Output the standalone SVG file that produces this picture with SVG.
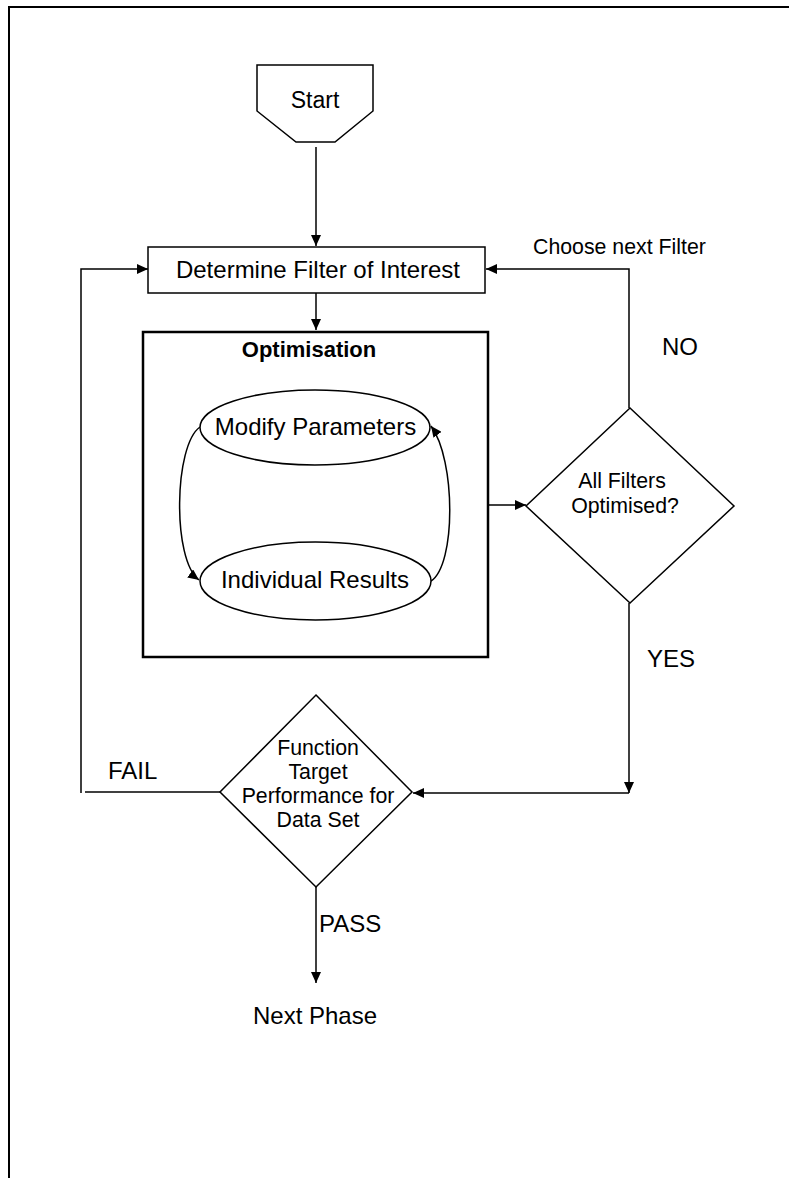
<svg xmlns="http://www.w3.org/2000/svg" width="789" height="1178" viewBox="0 0 789 1178">
<style>
.t{font-family:"Liberation Sans",Arial,sans-serif;fill:#000;}
.l{font-size:24px;}
.s{font-size:21.3px;}
.b{font-size:22px;font-weight:bold;}
.sh{fill:#fff;stroke:#000;stroke-width:1.5;}
.c{fill:none;stroke:#000;stroke-width:1.5;}
</style>
<defs>
<marker id="ah" markerUnits="userSpaceOnUse" markerWidth="12" markerHeight="10" refX="11" refY="5" orient="auto">
<path d="M0,0 L11,5 L0,10 Z" fill="#000"/>
</marker>
</defs>
<rect width="789" height="1178" fill="#fff"/>
<g id="frame">
<path d="M9,1178 L9,7 L789,7" fill="none" stroke="#000" stroke-width="2"/>
</g>
<g id="connectors">
<path class="c" d="M316,147 L316,246" marker-end="url(#ah)"/>
<path class="c" d="M316,293 L316,330" marker-end="url(#ah)"/>
<path class="c" d="M489,505 L526,505" marker-end="url(#ah)"/>
<path class="c" d="M629,408 L629,269 L486,269" marker-end="url(#ah)"/>
<path class="c" d="M629,603 L629,793" marker-end="url(#ah)"/>
<path class="c" d="M629,793 L413,793" marker-end="url(#ah)"/>
<path class="c" d="M220,792 L85,792" stroke-width="2"/>
<path class="c" d="M81,793 L81,269 L148,269" marker-end="url(#ah)"/>
<path class="c" d="M316,887 L316,983" marker-end="url(#ah)"/>
<path class="c" d="M200,427 C174,445 172,560 199,580" marker-end="url(#ah)"/>
<path class="c" d="M431,581 C456,565 456,460 431,426" marker-end="url(#ah)"/>
</g>
<g id="start">
<path class="sh" d="M257,65 L373,65 L373,111 L335,142 L296,142 L257,111 Z"/>
<text class="t l" x="315" y="108" text-anchor="middle" style="font-size:23px">Start</text>
</g>
<g id="determine">
<rect class="sh" x="148" y="247" width="337" height="46"/>
<text class="t l" x="318" y="278" text-anchor="middle">Determine Filter of Interest</text>
</g>
<g id="choose-label">
<text class="t s" x="533" y="254">Choose next Filter</text>
</g>
<g id="no-label">
<text class="t l" x="662" y="355">NO</text>
</g>
<g id="optimisation">
<rect x="143" y="332" width="345" height="325" fill="none" stroke="#000" stroke-width="2.5"/>
<text class="t b" x="309" y="357" text-anchor="middle">Optimisation</text>
</g>
<g id="modify">
<ellipse class="sh" cx="315" cy="427.5" rx="115" ry="37.5"/>
<text class="t l" x="315.5" y="435" text-anchor="middle">Modify Parameters</text>
</g>
<g id="results">
<ellipse class="sh" cx="315.5" cy="581" rx="115.5" ry="39"/>
<text class="t l" x="315" y="588" text-anchor="middle">Individual Results</text>
</g>
<g id="all-filters">
<path class="sh" d="M630,408 L734,506 L630,603 L526,506 Z"/>
<text class="t s" x="622" y="488" text-anchor="middle">All Filters</text>
<text class="t s" x="625" y="513" text-anchor="middle">Optimised?</text>
</g>
<g id="yes-label">
<text class="t l" x="647" y="667">YES</text>
</g>
<g id="function">
<path class="sh" d="M316,695 L412,792 L316,887 L220,792 Z"/>
<text class="t s" x="318" y="755" text-anchor="middle">Function</text>
<text class="t s" x="318" y="779" text-anchor="middle">Target</text>
<text class="t s" x="318" y="803" text-anchor="middle">Performance for</text>
<text class="t s" x="318" y="827" text-anchor="middle">Data Set</text>
</g>
<g id="fail-label">
<text class="t l" x="108" y="779">FAIL</text>
</g>
<g id="pass-label">
<text class="t l" x="319" y="932">PASS</text>
</g>
<g id="next-phase">
<text class="t l" x="315" y="1024" text-anchor="middle">Next Phase</text>
</g>
</svg>
